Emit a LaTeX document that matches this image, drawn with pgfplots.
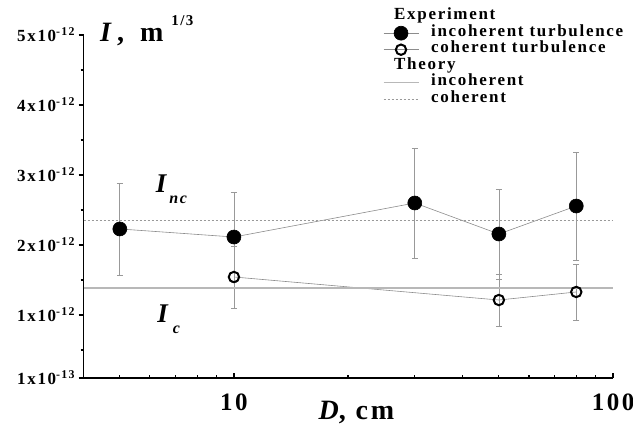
\documentclass[border=0pt]{standalone}
\usepackage{fontspec}
\setmainfont{Liberation Serif}[LetterSpace=10]
\usepackage{pgfplots}
\pgfplotsset{compat=1.18}
\definecolor{dataline}{gray}{0.55}
\definecolor{errline}{gray}{0.6}
\definecolor{theoline}{gray}{0.72}
\definecolor{dotline}{gray}{0.6}
\begin{document}
\begin{tikzpicture}
\begin{axis}[
  scale only axis, width=529.5pt, height=343pt,
  xmode=log, xmin=4.01, xmax=100, ymin=0.1, ymax=5,
  axis x line=bottom, axis y line=left,
  axis line style={-, line width=1.4pt, black},
  xtick={10,100}, xticklabels={10,100},
  minor xtick={5,6,7,8,9,20,30,40,50,60,70,80,90},
  ytick={0.1,1,2,3,4,5},
  yticklabels={1x10\textsuperscript{-13},1x10\textsuperscript{-12},2x10\textsuperscript{-12},3x10\textsuperscript{-12},4x10\textsuperscript{-12},5x10\textsuperscript{-12}},
  minor ytick={0.5,1.5,2.5,3.5,4.5},
  xtick align=inside, ytick align=outside,
  major tick length=5pt, minor tick length=3pt,
  tick style={black, line width=1.2pt},
  xticklabel style={font=\fontsize{25}{25}\selectfont\bfseries, anchor=base, yshift=-32pt},
  yticklabel style={font=\fontsize{17}{17}\selectfont\bfseries, anchor=east},
  xlabel={\textbf{\textit{D}, cm}},
  x label style={font=\fontsize{28}{28}\selectfont\bfseries, at={(axis description cs:0.518,-0.122)}, anchor=base},
  clip=false,
  legend style={at={(rel axis cs:0.565,1.078)}, anchor=north west, draw=none, fill=none,
    inner sep=0pt, row sep=0pt, column sep=11pt,
    font=\fontsize{17}{17}\selectfont\bfseries,
    nodes={inner xsep=1pt, inner ysep=1pt, text height=10.5pt, text depth=4pt}},
  legend cell align=left,
  legend image code/.code={\draw[mark repeat=2,mark phase=2,#1] plot coordinates {(0pt,0pt) (17.5pt,0pt) (35pt,0pt)};},
]
\coordinate (O) at (rel axis cs:0,0);

\addlegendimage{empty legend}
\addlegendentry{\hspace*{-37pt}Experiment}

\addplot[color=dataline, line width=0.6pt, mark=*, mark size=7pt,
  mark options={solid, fill=black, draw=black},
  error bars/.cd, y dir=both, y explicit,
  error bar style={errline, line width=0.7pt},
  error mark options={rotate=90, errline, mark size=3pt, line width=0.7pt}]
  coordinates {
  (5,2.229) +- (0,0.657)
  (10,2.114) +- (0,0.643)
  (30,2.600) +- (0,0.786)
  (50,2.157) +- (0,0.643)
  (80,2.557) +- (0,0.771)
  };
\addlegendentry{incoherent turbulence}

\addplot[color=dataline, line width=0.6pt, mark=o, mark size=5.2pt,
  mark options={solid, fill=white, draw=black, line width=2pt},
  error bars/.cd, y dir=both, y explicit,
  error bar style={errline, line width=0.7pt},
  error mark options={rotate=90, errline, mark size=3pt, line width=0.7pt}]
  coordinates {
  (10,1.543) +- (0,0.443)
  (50,1.214) +- (0,0.371)
  (80,1.329) +- (0,0.400)
  };
\addlegendentry{coherent turbulence}

\addlegendimage{empty legend}
\addlegendentry{\hspace*{-37pt}Theory}

\addplot[color=theoline, line width=1.3pt] coordinates {(4.01,1.386) (100,1.386)};
\addlegendentry{incoherent}

\addplot[color=dotline, line width=0.9pt, dash pattern=on 2pt off 2pt] coordinates {(4.01,2.357) (100,2.357)};
\addlegendentry{coherent}

\node[anchor=base west, inner sep=0pt] at (axis cs:6.22,2.757)
  {\fontsize{27}{27}\selectfont\bfseries\itshape I\hspace{3pt}\raisebox{-11pt}{\fontsize{16}{16}\selectfont nc}};
\node[anchor=base west, inner sep=0pt] at (axis cs:6.27,0.886)
  {\fontsize{27}{27}\selectfont\bfseries\itshape I\hspace{5pt}\raisebox{-11pt}{\fontsize{16}{16}\selectfont c}};
\node[anchor=base west, inner sep=0pt] at (rel axis cs:0.031,0.980)
  {\fontsize{28}{28}\selectfont\bfseries\itshape I\upshape\hspace{6pt},\hspace{16pt}m\hspace{8pt}\raisebox{16pt}{\fontsize{15}{15}\selectfont 1/3}};
\end{axis}
\pgfresetboundingbox
\path (O) ++(-83.5pt,-51pt) rectangle ++(633pt,429pt);
\end{tikzpicture}
\end{document}
